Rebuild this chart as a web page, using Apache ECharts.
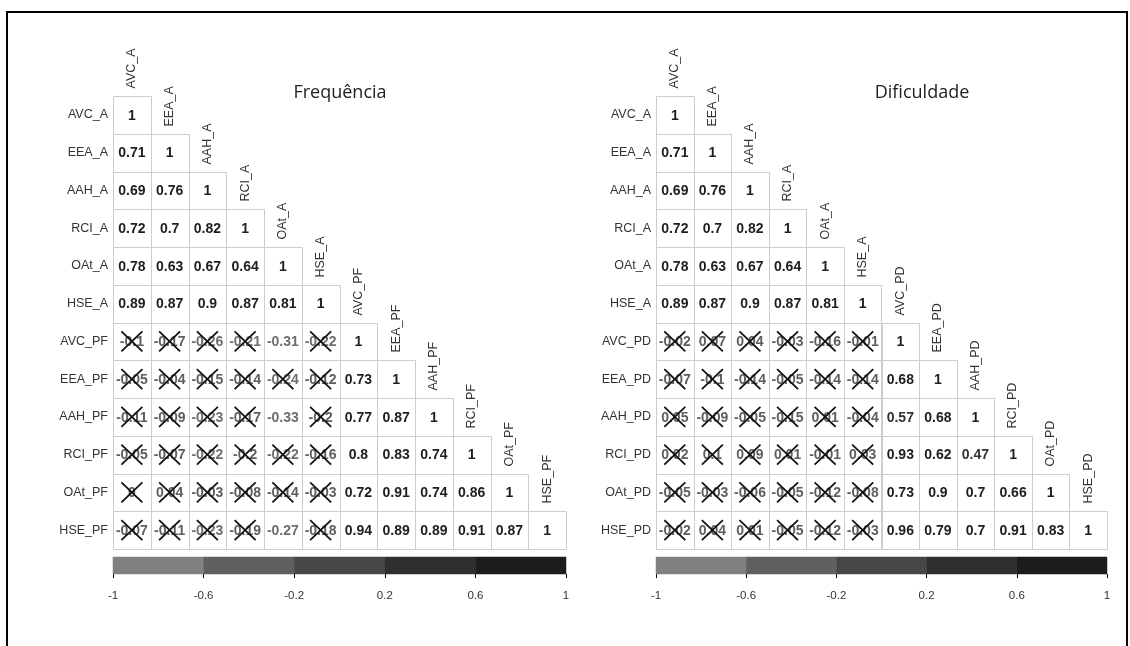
<!DOCTYPE html>
<html>
<head>
<meta charset="utf-8">
<script src="https://cdn.jsdelivr.net/npm/echarts@6/dist/echarts.min.js"></script>
<style>html,body{margin:0;padding:0;background:#fff;}#chart{width:1130px;height:646px;}</style>
</head>
<body>
<div id="chart"></div>
<script>
// ---------- DATA ----------
const varsA = ['AVC_A', 'EEA_A', 'AAH_A', 'RCI_A', 'OAt_A', 'HSE_A'];
const varsPF = ['AVC_PF', 'EEA_PF', 'AAH_PF', 'RCI_PF', 'OAt_PF', 'HSE_PF'];
const varsPD = ['AVC_PD', 'EEA_PD', 'AAH_PD', 'RCI_PD', 'OAt_PD', 'HSE_PD'];

// lower triangle rows shared by both matrices (A block)
const rowsA = [
  [1],
  [0.71, 1],
  [0.69, 0.76, 1],
  [0.72, 0.7, 0.82, 1],
  [0.78, 0.63, 0.67, 0.64, 1],
  [0.89, 0.87, 0.9, 0.87, 0.81, 1]
];
// Frequência rows (PF block)
const rowsPF = [
  [-0.1, -0.17, -0.26, -0.21, -0.31, -0.22, 1],
  [-0.05, -0.04, -0.15, -0.14, -0.24, -0.12, 0.73, 1],
  [-0.11, -0.09, -0.23, -0.17, -0.33, -0.2, 0.77, 0.87, 1],
  [-0.05, -0.07, -0.22, -0.2, -0.22, -0.16, 0.8, 0.83, 0.74, 1],
  [0, 0.04, -0.03, -0.08, -0.14, -0.03, 0.72, 0.91, 0.74, 0.86, 1],
  [-0.07, -0.11, -0.23, -0.19, -0.27, -0.18, 0.94, 0.89, 0.89, 0.91, 0.87, 1]
];
// Dificuldade rows (PD block)
const rowsPD = [
  [-0.02, 0.07, 0.04, -0.03, -0.16, -0.01, 1],
  [-0.07, -0.1, -0.14, -0.05, -0.14, -0.14, 0.68, 1],
  [0.05, -0.09, -0.05, -0.15, 0.01, -0.04, 0.57, 0.68, 1],
  [0.02, 0.1, 0.09, 0.01, -0.01, 0.03, 0.93, 0.62, 0.47, 1],
  [-0.05, -0.03, -0.06, -0.05, -0.12, -0.08, 0.73, 0.9, 0.7, 0.66, 1],
  [-0.02, 0.04, 0.01, -0.05, -0.12, -0.03, 0.96, 0.79, 0.7, 0.91, 0.83, 1]
];
// non-significant (crossed) flags for the cross block (rows PF/PD x cols A)
const crossPF = [
  [1, 1, 1, 1, 0, 1],
  [1, 1, 1, 1, 1, 1],
  [1, 1, 1, 1, 0, 1],
  [1, 1, 1, 1, 1, 1],
  [1, 1, 1, 1, 1, 1],
  [1, 1, 1, 1, 0, 1]
];
const crossPD = [
  [1, 1, 1, 1, 1, 1],
  [1, 1, 1, 1, 1, 1],
  [1, 1, 1, 1, 1, 1],
  [1, 1, 1, 1, 1, 1],
  [1, 1, 1, 1, 1, 1],
  [1, 1, 1, 1, 1, 1]
];
const colorbarBreaks = [-1, -0.6, -0.2, 0.2, 0.6, 1];
const titles = ['Frequência', 'Dificuldade'];

// ---------- STYLE ----------
const binColors = ['#808080', '#606060', '#464646', '#303030', '#1c1c1c'];
const textColors = ['#858585', '#6e6e6e', '#5e5e5e', '#333333', '#1e1e1e'];
const FONT = '"Liberation Sans", Arial, sans-serif';

function binOf(v) {
  for (let k = 0; k < 5; k++) if (v < colorbarBreaks[k + 1]) return k;
  return 4;
}
function fmt(v) { return String(Math.round(v * 100) / 100); }

function cellData(rows, mask) {
  const d = [];
  rows.forEach((r, i) => r.forEach((v, j) => {
    const c = (i >= 6 && j < 6) ? mask[i - 6][j] : 0;
    d.push([j, i, v, c]);
  }));
  return d;
}

function matrixSeries(vars, rows, mask, gi) {
  return {
    type: 'custom',
    xAxisIndex: gi, yAxisIndex: gi,
    data: cellData(rows, mask),
    encode: { x: 0, y: 1 },
    clip: false,
    renderItem: function (params, api) {
      const col = api.value(0), row = api.value(1), v = api.value(2), c = api.value(3);
      const p = api.coord([col, row]);
      const s = api.size([1, 1]);
      const x0 = Math.round(p[0] - s[0] / 2) + 0.5, x1 = Math.round(p[0] + s[0] / 2) + 0.5;
      const y0 = Math.round(p[1] - s[1] / 2) + 0.5, y1 = Math.round(p[1] + s[1] / 2) + 0.5;
      const children = [
        { type: 'rect', shape: { x: x0, y: y0, width: x1 - x0, height: y1 - y0 },
          style: { fill: '#fff', stroke: '#cdcdcd', lineWidth: 1 } },
        { type: 'text', x: p[0], y: p[1] + 1,
          style: { text: fmt(v), align: 'center', verticalAlign: 'middle',
                   font: 'bold 14px ' + FONT, fill: textColors[binOf(v)] } }
      ];
      if (c) {
        const hx = 10.5, hy = 10;
        children.push({ type: 'line', shape: { x1: p[0] - hx, y1: p[1] - hy, x2: p[0] + hx, y2: p[1] + hy },
          style: { stroke: '#111', lineWidth: 1.8 } });
        children.push({ type: 'line', shape: { x1: p[0] - hx, y1: p[1] + hy, x2: p[0] + hx, y2: p[1] - hy },
          style: { stroke: '#111', lineWidth: 1.8 } });
      }
      if (col === row) {
        children.push({ type: 'text', x: p[0], y: y0 - 8, rotation: Math.PI / 2,
          style: { text: vars[col], align: 'left', verticalAlign: 'middle',
                   font: '12.5px ' + FONT, fill: '#333' } });
      }
      return { type: 'group', children: children };
    }
  };
}

function colorbarSeries(gi) {
  const d = [];
  for (let k = 0; k < 5; k++) d.push([colorbarBreaks[k], colorbarBreaks[k + 1], k]);
  return {
    type: 'custom', xAxisIndex: gi, yAxisIndex: gi, data: d, encode: { x: [0, 1] }, clip: false,
    renderItem: function (params, api) {
      const a = api.coord([api.value(0), 0]);
      const b = api.coord([api.value(1), 1]);
      const k = api.value(2);
      return { type: 'rect', shape: { x: a[0], y: b[1], width: b[0] - a[0], height: a[1] - b[1] },
               style: { fill: binColors[k], stroke: binColors[k], lineWidth: 0.5 } };
    }
  };
}

const varsF = varsA.concat(varsPF);
const varsD = varsA.concat(varsPD);
const fullF = rowsA.concat(rowsPF);
const fullD = rowsA.concat(rowsPD);

const grids = [
  { left: 113, top: 96, width: 453, height: 453 },
  { left: 656, top: 96, width: 451, height: 453 },
  { left: 113, top: 557, width: 453, height: 17 },
  { left: 656, top: 557, width: 451, height: 17 }
];

function catX(vars, gi) {
  return { type: 'category', gridIndex: gi, data: vars, show: false };
}
function catY(vars, gi) {
  return { type: 'category', gridIndex: gi, data: vars, inverse: true,
    axisLine: { show: false }, axisTick: { show: false }, splitLine: { show: false },
    axisLabel: { fontSize: 12.5, color: '#333', margin: 5, fontFamily: FONT } };
}
function cbX(gi) {
  return { type: 'value', gridIndex: gi, min: -1, max: 1, interval: 0.4,
    axisLine: { show: false }, splitLine: { show: false },
    axisTick: { show: true, length: 4, lineStyle: { color: '#000', width: 1 } },
    axisLabel: { fontSize: 11.5, color: '#333', margin: 16, fontFamily: FONT,
      formatter: v => String(Math.round(v * 10) / 10) } };
}
function cbY(gi) {
  return { type: 'value', gridIndex: gi, min: 0, max: 1, show: false };
}

const chart = echarts.init(document.getElementById('chart'), null, { renderer: 'canvas' });
chart.setOption({
  animation: false,
  backgroundColor: '#fff',
  grid: grids,
  xAxis: [catX(varsF, 0), catX(varsD, 1), cbX(2), cbX(3)],
  yAxis: [catY(varsF, 0), catY(varsD, 1), cbY(2), cbY(3)],
  series: [
    matrixSeries(varsF, fullF, crossPF, 0),
    matrixSeries(varsD, fullD, crossPD, 1),
    colorbarSeries(2),
    colorbarSeries(3)
  ],
  graphic: [
    { type: 'rect', shape: { x: 7, y: 12, width: 1120, height: 700 },
      style: { fill: null, stroke: '#000', lineWidth: 2 }, silent: true },
    { type: 'text', x: 340, y: 93, style: { text: titles[0], align: 'center', verticalAlign: 'middle',
      font: '18px "Open Sans", "Noto Sans", sans-serif', fill: '#222' } },
    { type: 'text', x: 922, y: 93, style: { text: titles[1], align: 'center', verticalAlign: 'middle',
      font: '18px "Open Sans", "Noto Sans", sans-serif', fill: '#222' } }
  ]
});
</script>
</body>
</html>
